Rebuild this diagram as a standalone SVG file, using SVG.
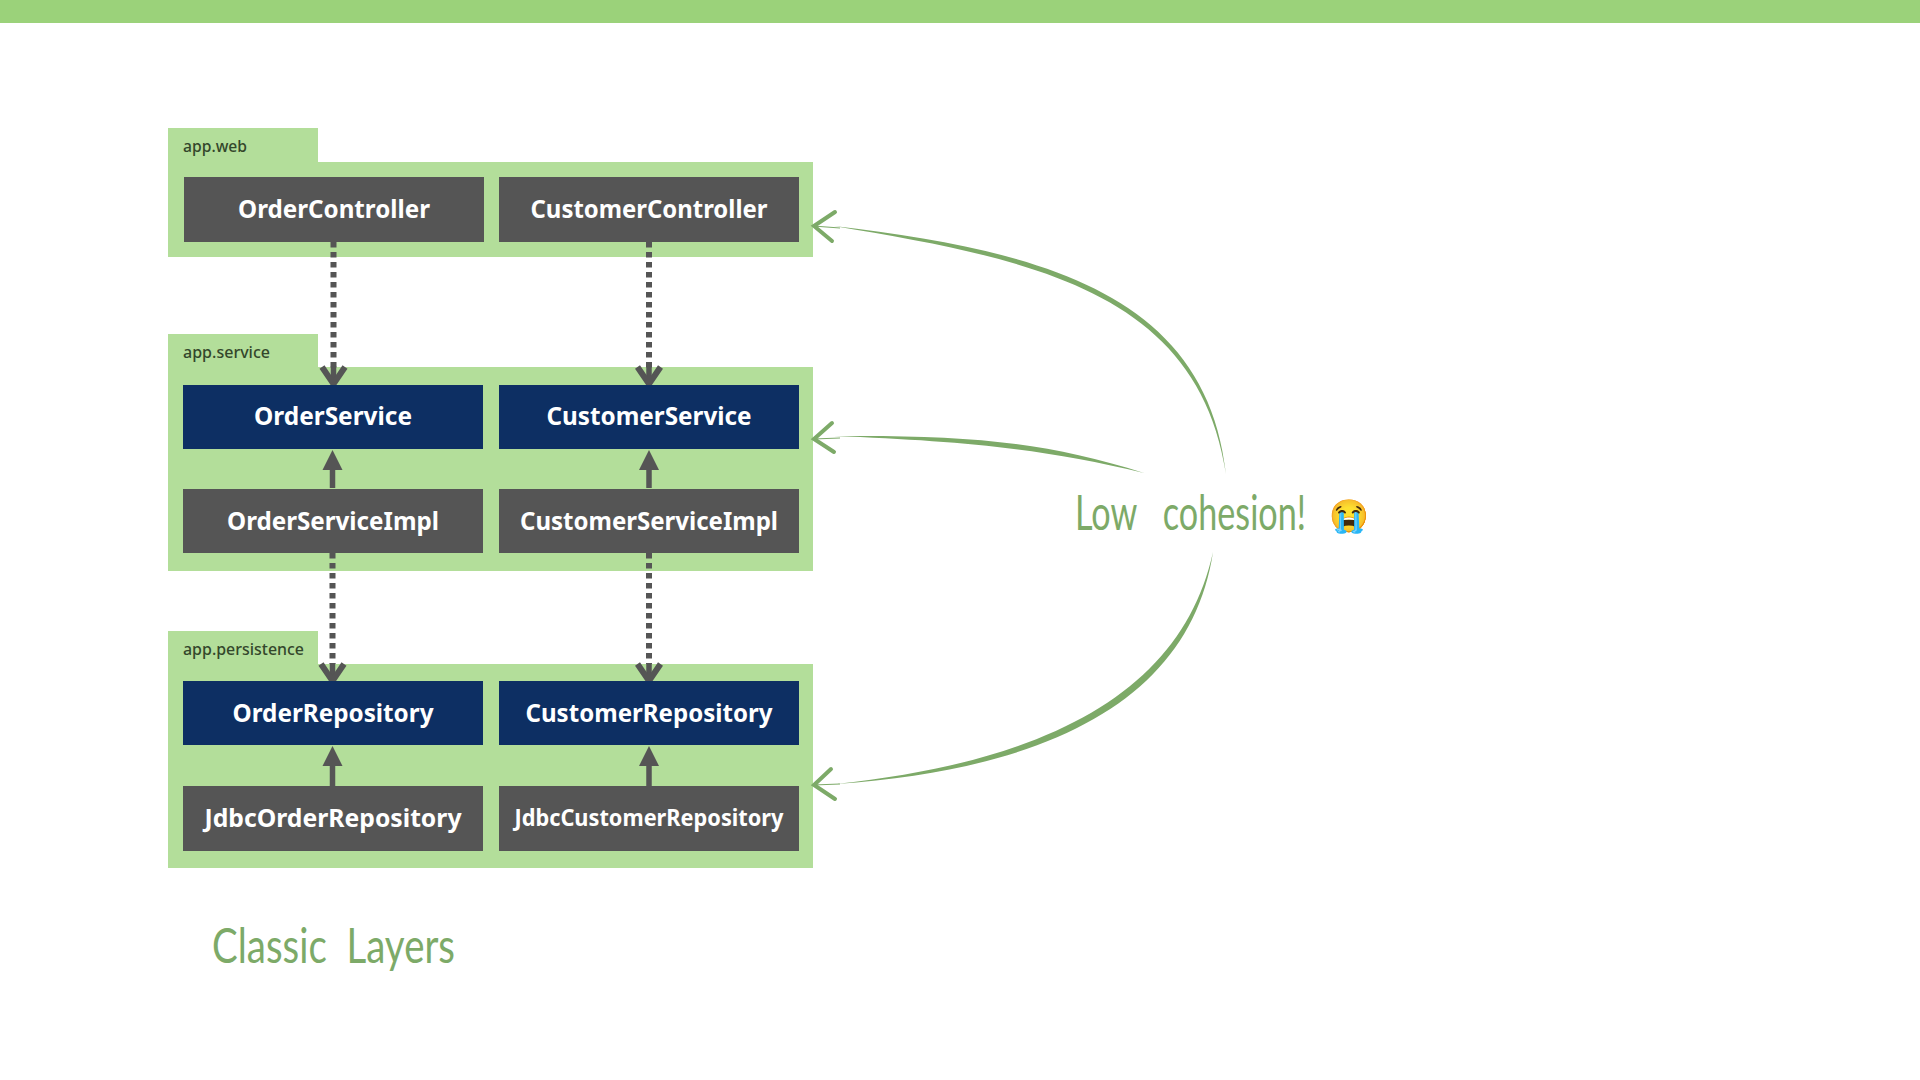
<svg xmlns="http://www.w3.org/2000/svg" width="1920" height="1080" viewBox="0 0 1920 1080">
<style>
.grp{fill:#B3DE9A}
.impl{fill:#555555}
.api{fill:#0D2F63}
.lbl{font-family:"Noto Sans","Liberation Sans",sans-serif;font-weight:700;font-size:25px;fill:#fff;text-anchor:middle}
.pkg{font-family:"Noto Sans","Liberation Sans",sans-serif;font-weight:500;font-size:17px;fill:#33472B}
.hand{font-family:Lato,"Liberation Sans",sans-serif;font-weight:400;fill:#7DAA68;white-space:pre}
.dash{stroke:#555;stroke-width:6;stroke-dasharray:5.5 4.5;fill:none}
.solid{stroke:#555;stroke-width:5.5;fill:none}
.open{stroke:#555;stroke-width:6;fill:none;stroke-linecap:butt;stroke-linejoin:miter}
.tri{fill:#555}
.brush{fill:#7DAA68}
.head{stroke:#7DAA68;stroke-width:4;fill:none;stroke-linecap:round;stroke-linejoin:miter}
.thin{stroke:#7DAA68;stroke-width:1.200;fill:none}
</style>
<rect x="0" y="0" width="1920" height="23" fill="#9BD27A"/>
<g id="pkg-web"><path class="grp" d="M168 128H318V162H813V257H168Z"/><text class="pkg" x="183" y="152" textLength="64" lengthAdjust="spacingAndGlyphs">app.web</text></g>
<g id="pkg-service"><path class="grp" d="M168 334H318V367H813V571H168Z"/><text class="pkg" x="183" y="358" textLength="87" lengthAdjust="spacingAndGlyphs">app.service</text></g>
<g id="pkg-persistence"><path class="grp" d="M168 631H318V664H813V868H168Z"/><text class="pkg" x="183" y="655" textLength="121" lengthAdjust="spacingAndGlyphs">app.persistence</text></g>
<g id="connectors">
<path class="dash" d="M333.500 242V368"/><path class="solid" d="M333.500 366V382"/><path class="open" d="M322 367L333.500 384L345 367"/>
<path class="dash" d="M649 242V368"/><path class="solid" d="M649 366V382"/><path class="open" d="M637.500 367L649 384L660.500 367"/>
<path class="dash" d="M332.500 553V664"/><path class="solid" d="M332.500 663V678"/><path class="open" d="M321 664L332.500 681L344 664"/>
<path class="dash" d="M649 553V664"/><path class="solid" d="M649 663V678"/><path class="open" d="M637.500 664L649 681L660.500 664"/>
<path class="solid" d="M332.500 488V468"/><path class="tri" d="M332.500 450L342.500 470H322.500Z"/>
<path class="solid" d="M649 488V468"/><path class="tri" d="M649 450L659 470H639Z"/>
<path class="solid" d="M332.500 786V763"/><path class="tri" d="M332.500 746L342.500 766H322.500Z"/>
<path class="solid" d="M649 786V763"/><path class="tri" d="M649 746L659 766H639Z"/>
<path class="brush" d="M1226 474C1206 290 1034 250 834 226C1032 259 1198 291 1226 474Z"/>
<path class="thin" d="M813 226L840 228"/><path class="head" d="M835 212L814 226L832 241"/>
<path class="brush" d="M1144 473C1040 440 960 435 834 436C960 441 1040 448 1144 473Z"/>
<path class="thin" d="M813 439L840 438"/><path class="head" d="M832 423L814 439L834 452"/>
<path class="brush" d="M1213 552C1192 690 1066 768 836 784C1062 760 1184 684 1213 552Z"/>
<path class="thin" d="M813 785L840 784"/><path class="head" d="M831 769L814 785L835 799"/>
</g>
<g id="OrderController"><rect class="impl" x="184" y="177" width="300" height="65"/><text class="lbl" x="334" y="218" textLength="192" lengthAdjust="spacingAndGlyphs">OrderController</text></g>
<g id="CustomerController"><rect class="impl" x="499" y="177" width="300" height="65"/><text class="lbl" x="649" y="218" textLength="237" lengthAdjust="spacingAndGlyphs">CustomerController</text></g>
<g id="OrderService"><rect class="api" x="183" y="385" width="300" height="64"/><text class="lbl" x="333" y="425" textLength="158" lengthAdjust="spacingAndGlyphs">OrderService</text></g>
<g id="CustomerService"><rect class="api" x="499" y="385" width="300" height="64"/><text class="lbl" x="649" y="425" textLength="205" lengthAdjust="spacingAndGlyphs">CustomerService</text></g>
<g id="OrderServiceImpl"><rect class="impl" x="183" y="489" width="300" height="64"/><text class="lbl" x="333" y="530" textLength="212" lengthAdjust="spacingAndGlyphs">OrderServiceImpl</text></g>
<g id="CustomerServiceImpl"><rect class="impl" x="499" y="489" width="300" height="64"/><text class="lbl" x="649" y="530" textLength="258" lengthAdjust="spacingAndGlyphs">CustomerServiceImpl</text></g>
<g id="OrderRepository"><rect class="api" x="183" y="681" width="300" height="64"/><text class="lbl" x="333" y="722" textLength="201" lengthAdjust="spacingAndGlyphs">OrderRepository</text></g>
<g id="CustomerRepository"><rect class="api" x="499" y="681" width="300" height="64"/><text class="lbl" x="649" y="722" textLength="247" lengthAdjust="spacingAndGlyphs">CustomerRepository</text></g>
<g id="JdbcOrderRepository"><rect class="impl" x="183" y="786" width="300" height="65"/><text class="lbl" x="333" y="827" textLength="257" lengthAdjust="spacingAndGlyphs">JdbcOrderRepository</text></g>
<g id="JdbcCustomerRepository"><rect class="impl" x="499" y="786" width="300" height="65"/><text class="lbl" x="649" y="826" style="font-size:23px" textLength="269" lengthAdjust="spacingAndGlyphs">JdbcCustomerRepository</text></g>
<g id="low-cohesion"><text class="hand" transform="translate(1075 530) scale(.855 1.2)" x="0" y="0" style="font-size:40px">Low   cohesion!</text>
<text x="1329" y="527" font-family="'Noto Color Emoji','DejaVu Sans',sans-serif" font-size="32">😭</text></g>
<g id="title"><text class="hand" x="212" y="963" style="font-size:48px" textLength="243" lengthAdjust="spacingAndGlyphs">Classic  Layers</text></g>
</svg>
